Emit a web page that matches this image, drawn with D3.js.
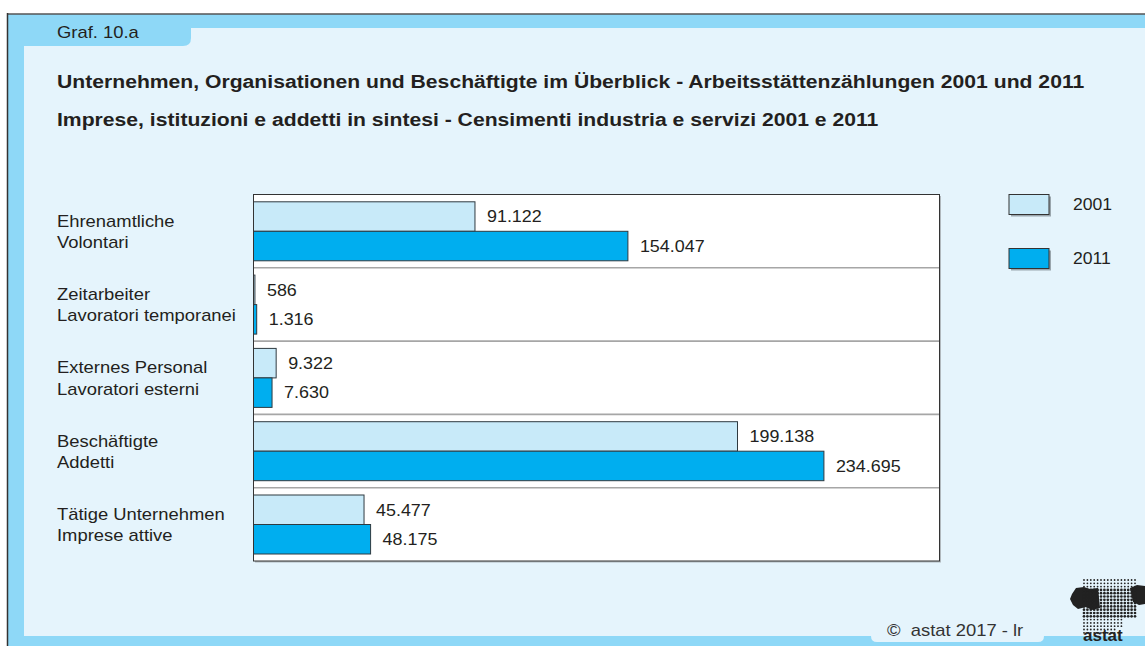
<!DOCTYPE html>
<html><head><meta charset="utf-8">
<script src="https://cdn.jsdelivr.net/npm/d3@7"></script>
<style>
html,body{margin:0;padding:0;background:#fff;}
svg{display:block;font-family:"Liberation Sans",Arial,Helvetica,sans-serif;}
</style></head>
<body>
<svg id="chart" width="1145" height="646"></svg>
<script>
const categoriesDe = ["Ehrenamtliche","Zeitarbeiter","Externes Personal","Beschäftigte","Tätige Unternehmen"];
const categoriesIt = ["Volontari","Lavoratori temporanei","Lavoratori esterni","Addetti","Imprese attive"];
const values2001 = [91122, 586, 9322, 199138, 45477];
const values2011 = [154047, 1316, 7630, 234695, 48175];
const seriesNames = ["2001","2011"];
const labels2001 = ["91.122","586","9.322","199.138","45.477"];
const labels2011 = ["154.047","1.316","7.630","234.695","48.175"];
const titleDe = "Unternehmen, Organisationen und Beschäftigte im Überblick - Arbeitsstättenzählungen 2001 und 2011";
const titleIt = "Imprese, istituzioni e addetti in sintesi - Censimenti industria e servizi 2001 e 2011";

const colors = {"2001":"#c8eaf9","2011":"#00aeef"};
const svg = d3.select("#chart");
const W = 1145, H = 646;
const band = "#8ed8f7", pale = "#e5f4fc", ink = "#231f20";
const SX = 1.15;

function stext(parent, x, y, str, size, opts) {
  opts = opts || {};
  const t = parent.append("text")
    .attr("transform", `translate(${x},${y}) scale(${opts.sx || SX},1)`)
    .attr("font-size", size)
    .attr("fill", opts.fill || ink)
    .text(str);
  if (opts.bold) t.attr("font-weight", "bold");
  if (opts.dy) t.attr("dy", opts.dy);
  return t;
}

// frame background
svg.append("rect").attr("x",8).attr("y",14).attr("width",W-8).attr("height",H-14).attr("fill",band);
svg.append("rect").attr("x",24).attr("y",28).attr("width",W-24).attr("height",636-28).attr("fill",pale);
// tab
svg.append("path").attr("fill",band)
  .attr("d","M24,28 H191 V38 Q191,46 183,46 H24 Z");
stext(svg, 57, 38, "Graf. 10.a", 16);
// borders
svg.append("line").attr("x1",7).attr("x2",W).attr("y1",14).attr("y2",14).attr("stroke","#555").attr("stroke-width",1.5);
svg.append("line").attr("x1",7.5).attr("x2",7.5).attr("y1",13).attr("y2",H).attr("stroke","#333").attr("stroke-width",1.5);

// titles
stext(svg, 57, 87.5, titleDe, 18.4, {bold:true});
stext(svg, 57, 126, titleIt, 18.4, {bold:true});

// plot
const px0 = 253.5, px1 = 939.5, py0 = 194.5, py1 = 561;
const x = d3.scaleLinear().domain([0, 282250]).range([px0, px1]);
const y = d3.scaleBand().domain(d3.range(categoriesDe.length)).range([py0, py1]).paddingInner(0).paddingOuter(0);
const rowH = y.bandwidth();
const sub = d3.scaleBand().domain(seriesNames).range([7.3, rowH-7]).padding(0);

// shadow & background
svg.append("rect").attr("x",px0+1.5).attr("y",py0+1.5).attr("width",px1-px0).attr("height",py1-py0).attr("fill","#b0b8bd");
svg.append("rect").attr("x",px0).attr("y",py0).attr("width",px1-px0).attr("height",py1-py0).attr("fill","#fff");

// separators
const seps = d3.range(1, categoriesDe.length);
svg.append("g").selectAll("line").data(seps).join("line")
  .attr("x1",px0).attr("x2",px1)
  .attr("y1",d=>y(d)).attr("y2",d=>y(d))
  .attr("stroke","#a6a6a6").attr("stroke-width",1.6);

const data = [];
categoriesDe.forEach((c,i)=>{
  data.push({i, s:"2001", v:values2001[i], lab:labels2001[i]});
  data.push({i, s:"2011", v:values2011[i], lab:labels2011[i]});
});

const g = svg.append("g");
g.selectAll("rect").data(data).join("rect")
  .attr("x",x(0))
  .attr("y",d=>y(d.i)+sub(d.s))
  .attr("width",d=>Math.max(x(d.v)-x(0),1))
  .attr("height",sub.bandwidth())
  .attr("fill",d=>colors[d.s])
  .attr("stroke","#2f3a40").attr("stroke-width",1);

const gl = svg.append("g");
data.forEach(d=>{
  stext(gl, x(d.v)+12, y(d.i)+sub(d.s)+sub.bandwidth()/2, d.lab, 16, {dy:"0.36em", sx:1.12});
});

// frame
svg.append("rect").attr("x",px0).attr("y",py0).attr("width",px1-px0).attr("height",py1-py0)
  .attr("fill","none").attr("stroke","#333").attr("stroke-width",1);

// category labels
const cl = svg.append("g");
categoriesDe.forEach((c,i)=>{
  const cy = y(i)+rowH/2;
  stext(cl, 57, cy-4.5, c, 16);
  stext(cl, 57, cy+17, categoriesIt[i], 16);
});

// legend
const lg = svg.append("g");
seriesNames.forEach((s,k)=>{
  const ly = 194.5 + k*54;
  lg.append("rect").attr("x",1011).attr("y",ly+2).attr("width",40).attr("height",20).attr("fill","#9aa6ad");
  lg.append("rect").attr("x",1009).attr("y",ly).attr("width",40).attr("height",20).attr("fill",colors[s]).attr("stroke","#333").attr("stroke-width",1);
  stext(lg, 1073, ly+10, s, 16, {dy:"0.36em", sx:1.1});
});

// copyright tab
svg.append("path").attr("fill",pale)
  .attr("d","M871,630 H1044 V636 Q1044,642 1038,642 H877 Q871,642 871,636 Z");
stext(svg, 887, 636, "\u00A9\u00A0 astat 2017 - lr", 16, {fill:"#333", sx:1.15});

// logo (decorative)
const logo = svg.append("g");
logo.append("path").attr("fill","#222")
  .attr("d","M1072,594 L1076,588 L1084,587 L1090,589 L1098,588 L1100,608 L1092,610 L1086,607 L1078,609 L1073,605 L1070,599 Z");
logo.append("path").attr("fill","#222")
  .attr("d","M1130,588 L1137,585 L1145,586 L1145,604 L1139,605 L1133,602 Z");
const dots = [];
for (let r=0;r<17;r++){
  for (let c=0;c<16;c++){
    const dx = 1084 + c*3.4, dy = 580 + r*3.3;
    let rad = (r>=3 && r<=11) ? 1.35 : 0.9;
    if (r>11 && c>11) continue;
    if (r>14 && c>9) continue;
    dots.push({dx,dy,rad});
  }
}
logo.selectAll("circle").data(dots).join("circle")
  .attr("cx",d=>d.dx).attr("cy",d=>d.dy).attr("r",d=>d.rad).attr("fill","#222");
logo.append("text").attr("x",1083).attr("y",641).attr("font-size",17).attr("font-weight","bold").attr("fill","#222").text("astat");
</script>
</body></html>
